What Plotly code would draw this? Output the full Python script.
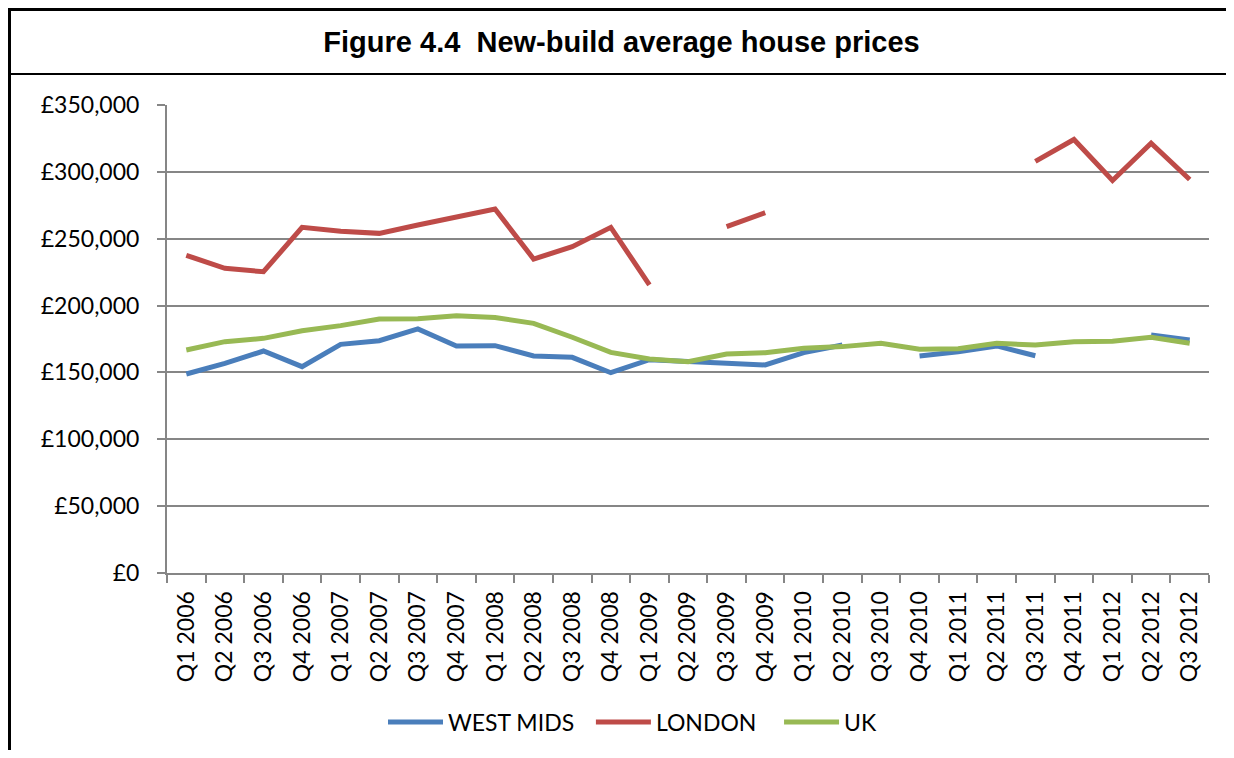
import plotly.graph_objects as go

quarters = ["Q1 2006", "Q2 2006", "Q3 2006", "Q4 2006",
            "Q1 2007", "Q2 2007", "Q3 2007", "Q4 2007",
            "Q1 2008", "Q2 2008", "Q3 2008", "Q4 2008",
            "Q1 2009", "Q2 2009", "Q3 2009", "Q4 2009",
            "Q1 2010", "Q2 2010", "Q3 2010", "Q4 2010",
            "Q1 2011", "Q2 2011", "Q3 2011", "Q4 2011",
            "Q1 2012", "Q2 2012", "Q3 2012"]

west_mids = [148800, 156800, 166000, 154300,
             171000, 173700, 182500, 169800,
             170000, 162300, 161300, 149800,
             159500, 157800, 156800, 155600,
             164800, 170500, None, 162300,
             165500, 169800, 162500, None,
             None, 178000, 174300]

london = [237600, 227900, 225300, 258500,
          255500, 254000, 260300, 266500,
          272200, 234800, 244000, 258500,
          215400, None, 259000, 269500,
          None, None, None, None,
          None, None, 307800, 324200,
          293500, 321500, 294300]

uk = [166800, 173000, 175500, 181200,
      185000, 190000, 190200, 192400,
      191000, 186700, 176300, 165000,
      160000, 158000, 163800, 164800,
      168100, 169300, 171800, 167300,
      167800, 171800, 170500, 173000,
      173300, 176300, 171800]

y_ticks = [0, 50000, 100000, 150000, 200000, 250000, 300000, 350000]
y_tick_text = ["£0", "£50,000", "£100,000", "£150,000", "£200,000",
               "£250,000", "£300,000", "£350,000"]

NB = "\u00a0"
series = [("WEST MIDS" + NB * 2, west_mids, "#4A7EBB"),
          ("LONDON" + NB * 3, london, "#BE4B48"),
          ("UK", uk, "#98B954")]

FONT = "Lato, 'Open Sans', sans-serif"

fig = go.Figure()
for name, vals, color in series:
    fig.add_trace(go.Scatter(
        x=quarters, y=vals, name=name, mode="lines",
        line=dict(color=color, width=5, shape="linear"),
        connectgaps=False,
    ))

W, H = 1218, 742
L, T = 159, 97
PW, PH = 1042, 468
R = W - L - PW
B = H - T - PH

fig.update_layout(
    width=W, height=H,
    margin=dict(l=L, r=R, t=T, b=B, autoexpand=False),
    paper_bgcolor="white", plot_bgcolor="white",
    font=dict(family=FONT, size=23, color="black"),
    title=dict(text="<b>Figure 4.4  New-build average house prices</b>",
               font=dict(family="'Liberation Sans', Arial, sans-serif",
                         size=29, color="black"),
               x=613.5 / W, xref="container", xanchor="center",
               y=1 - 34 / H, yref="container", yanchor="middle"),
    showlegend=True,
    legend=dict(orientation="h", x=(624.5 - L) / PW, xanchor="center",
                y=(565 - 714) / PH, yanchor="middle",
                font=dict(family=FONT, size=23, color="black"),
                itemwidth=55, tracegroupgap=0, bgcolor="rgba(0,0,0,0)"),
    xaxis=dict(type="category", range=[-0.5, len(quarters) - 0.5],
               tickson="boundaries", ticks="outside", ticklen=8,
               tickwidth=2, tickcolor="#868686",
               showline=True, linecolor="#868686", linewidth=2,
               showgrid=False, tickangle=-90, ticklabelstandoff=7,
               tickfont=dict(family=FONT, size=23, color="black"),
               fixedrange=True),
    yaxis=dict(range=[0, 350000], tickvals=y_ticks, ticktext=y_tick_text,
               ticks="outside", ticklen=8, tickwidth=2, tickcolor="#868686",
               showline=True, linecolor="#868686", linewidth=2,
               showgrid=True, gridcolor="#868686", gridwidth=2,
               zeroline=False, ticklabelstandoff=13,
               tickfont=dict(family=FONT, size=23, color="black"),
               fixedrange=True),
)

# Frame lines around the figure (pixel offsets from plot-area origin)
frame = dict(type="line", xref="paper", yref="paper",
             xsizemode="pixel", ysizemode="pixel", xanchor=0, yanchor=0,
             line=dict(color="black"))
top_off = T + PH - 1.5
fig.add_shape(**frame, x0=-L + 1.5, x1=-L + 1.5, y0=top_off, y1=-B, line_width=3)
fig.add_shape(**frame, x0=-L, x1=W - L, y0=top_off, y1=top_off, line_width=3)
fig.add_shape(**frame, x0=-L, x1=W - L, y0=499, y1=499, line_width=2)

fig.write_html("out.html", config={"displayModeBar": False})
